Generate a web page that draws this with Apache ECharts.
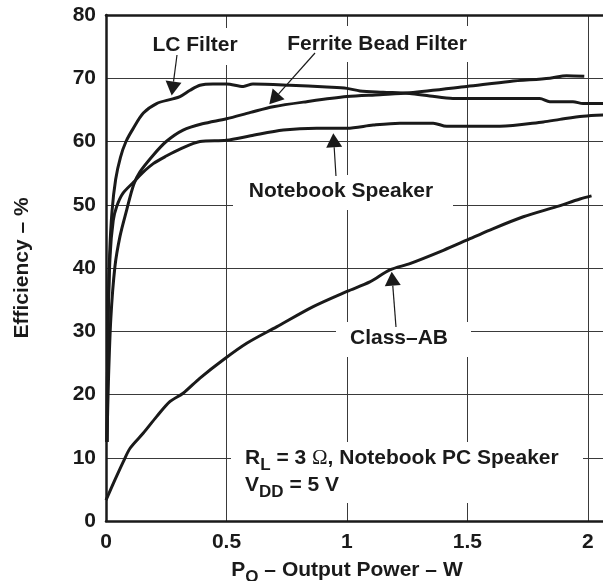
<!DOCTYPE html>
<html><head><meta charset="utf-8">
<script src="https://cdn.jsdelivr.net/npm/echarts@6/dist/echarts.min.js"></script>
<style>html,body{margin:0;padding:0;background:#fff}#c{width:603px;height:581px}</style>
</head><body><div id="c"></div>
<script>
// ---- data (Output power W, Efficiency %) ----
const lcFilter = [[0.004,12.5],[0.008,30],[0.015,42],[0.025,49],[0.04,54],[0.06,57.5],[0.083,60],[0.112,62],[0.155,64.5],[0.21,66.0],[0.273,66.7],[0.307,67.1],[0.349,68.1],[0.39,68.9],[0.444,69.1],[0.5,69.1],[0.57,68.7],[0.61,69.1],[0.763,68.9],[0.916,68.6],[1.0,68.4],[1.054,68.0],[1.15,67.8],[1.26,67.6],[1.344,67.2],[1.44,66.8],[1.8,66.8],[1.842,66.3],[1.938,66.3],[1.98,66.0],[2.07,66.0]];
const ferriteBead = [[0.004,12.5],[0.01,22],[0.02,32],[0.037,40.2],[0.058,45],[0.086,49.2],[0.115,53.2],[0.141,55.2],[0.195,57.8],[0.25,60],[0.32,61.8],[0.4,62.8],[0.5,63.6],[0.6,64.6],[0.694,65.5],[0.833,66.3],[1.0,67.1],[1.137,67.4],[1.26,67.7],[1.497,68.7],[1.676,69.5],[1.842,70.0],[1.911,70.4],[1.985,70.3]];
const notebookSpeaker = [[0.004,12.5],[0.008,30],[0.017,42],[0.03,47.5],[0.044,49.7],[0.07,51.8],[0.115,53.6],[0.15,55],[0.196,56.5],[0.25,57.7],[0.307,58.8],[0.39,60],[0.5,60.2],[0.6,60.9],[0.736,61.8],[0.874,62.1],[1.0,62.1],[1.109,62.6],[1.22,62.9],[1.358,62.9],[1.414,62.4],[1.635,62.4],[1.815,63.1],[1.884,63.5],[1.98,64.0],[2.07,64.2]];
const classAB = [[0,3.3],[0.037,6.5],[0.072,9.4],[0.1,11.5],[0.155,13.9],[0.21,16.5],[0.266,18.9],[0.32,20.2],[0.39,22.6],[0.487,25.5],[0.584,28.1],[0.708,30.7],[0.86,33.9],[1.0,36.3],[1.095,37.8],[1.178,39.7],[1.261,40.7],[1.4,42.8],[1.497,44.4],[1.593,46],[1.732,48.1],[1.87,49.7],[1.967,50.9],[2.015,51.4]];
const xTickStep = 0.5, yTickStep = 10;
const xRange = [0, 2.1], yRange = [0, 80];

const FAM = '"Liberation Sans", Arial, Helvetica, sans-serif';
const INK = '#1a1a1a';
const FS = 21;
const mctx = document.createElement('canvas').getContext('2d');
function tw(t, font){ mctx.font = font; return mctx.measureText(t).width; }

function textLine(segs, x0, yc, align){
  const fonts = segs.map(s => `${s.w||'bold'} ${s.s||FS}px ${s.f||FAM}`);
  const widths = segs.map((s,i)=>tw(s.t, fonts[i]));
  const total = widths.reduce((a,b)=>a+b,0);
  let x = align==='center' ? x0 - total/2 : x0;
  return segs.map((s,i)=>{
    const el = {type:'text', x:x, y:yc+(s.dy||0), z:100,
      style:{text:s.t, font:fonts[i], fill:INK, align:'left', verticalAlign:'middle', textAlign:'left', textVerticalAlign:'middle'}};
    x += widths[i];
    return el;
  });
}
function box(x1,y1,x2,y2){
  return {type:'rect', z:50, shape:{x:x1,y:y1,width:x2-x1,height:y2-y1}, style:{fill:'#fff'}};
}
function arrow(x1,y1,x2,y2){
  const dx=x2-x1, dy=y2-y1, L=Math.hypot(dx,dy), ux=dx/L, uy=dy/L;
  const hl=14, hw=8; const bx=x2-ux*hl, by=y2-uy*hl;
  return [
    {type:'line', z:100, shape:{x1:x1,y1:y1,x2:bx,y2:by}, style:{stroke:INK, lineWidth:1.2}},
    {type:'polygon', z:100, shape:{points:[[x2,y2],[bx-uy*hw,by+ux*hw],[bx+uy*hw,by-ux*hw]]}, style:{fill:INK}}
  ];
}

const chart = echarts.init(document.getElementById('c'), null, {renderer:'canvas'});
const lineSeries = (name, data) => ({
  name, type:'line', data, showSymbol:false, smooth:0.3, clip:true,
  lineStyle:{color:INK, width:3}, z:3, animation:false
});

const graphics = [].concat(
  [box(140,28,252,65), box(275,26,482,62), box(233,175,453,210), box(336,322,471,357), box(231,442,583,503)],
  textLine([{t:'LC Filter'}], 195, 45, 'center'),
  textLine([{t:'Ferrite Bead Filter'}], 377, 44, 'center'),
  textLine([{t:'Notebook Speaker'}], 341, 191, 'center'),
  textLine([{t:'Class\u2013AB'}], 399, 338, 'center'),
  textLine([{t:'R'},{t:'L',s:17,dy:7},{t:' = 3 '},{t:'\u03a9',w:'normal',f:'"Liberation Serif", serif'},{t:', Notebook PC Speaker'}], 245, 458, 'left'),
  textLine([{t:'V'},{t:'DD',s:17,dy:7},{t:' = 5 V'}], 245, 485.5, 'left'),
  textLine([{t:'P'},{t:'O',s:17,dy:7},{t:' \u2013 Output Power \u2013 W'}], 347, 570, 'center'),
  [{type:'text', x:22, y:268, rotation:Math.PI/2, z:100,
    style:{text:'Efficiency \u2013 %', font:`bold ${FS}px ${FAM}`, fill:INK, align:'center', verticalAlign:'middle', textAlign:'center', textVerticalAlign:'middle'}}],
  arrow(177,55,171.7,95.5),
  arrow(315,53,269.3,104.3),
  arrow(336,176,333.3,133.3),
  arrow(396,327,391.7,271.7)
);

chart.setOption({
  animation:false,
  backgroundColor:'#fff',
  grid:{left:106, top:15, width:506, height:506, outerBoundsMode:'none', containLabel:false, show:false},
  xAxis:[{
    type:'value', min:xRange[0], max:xRange[1], interval:xTickStep, position:'bottom',
    axisLine:{show:true, onZero:false, lineStyle:{color:INK, width:2.5}},
    axisTick:{show:false},
    axisLabel:{show:true, showMaxLabel:false, margin:11, color:INK, fontFamily:FAM, fontWeight:'bold', fontSize:FS,
      formatter:v=> (v>2.001? '' : String(v))},
    splitLine:{show:true, lineStyle:{color:'#3a3a3a', width:1}}
  },{
    type:'value', min:xRange[0], max:xRange[1], position:'top',
    axisLine:{show:true, onZero:false, lineStyle:{color:INK, width:2.5}},
    axisTick:{show:false}, axisLabel:{show:false}, splitLine:{show:false}
  }],
  yAxis:{
    type:'value', min:yRange[0], max:yRange[1], interval:yTickStep,
    axisLine:{show:true, onZero:false, lineStyle:{color:INK, width:2.5}},
    axisTick:{show:false},
    axisLabel:{margin:10, color:INK, fontFamily:FAM, fontWeight:'bold', fontSize:FS},
    splitLine:{show:true, lineStyle:{color:'#3a3a3a', width:1}}
  },
  series:[
    lineSeries('LC Filter', lcFilter),
    lineSeries('Ferrite Bead Filter', ferriteBead),
    lineSeries('Notebook Speaker', notebookSpeaker),
    lineSeries('Class-AB', classAB)
  ],
  graphic:{elements:graphics}
});
</script>
</body></html>
